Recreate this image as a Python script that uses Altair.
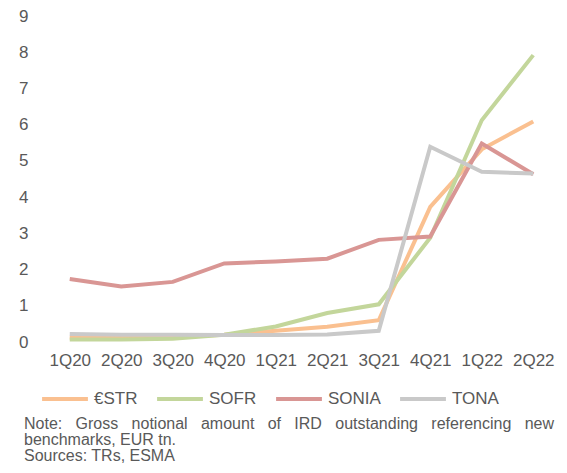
import altair as alt
import pandas as pd

quarters = ["1Q20", "2Q20", "3Q20", "4Q20", "1Q21", "2Q21", "3Q21", "4Q21", "1Q22", "2Q22"]
series_names = ["€STR", "SOFR", "SONIA", "TONA"]
estr = [0.12, 0.12, 0.14, 0.20, 0.31, 0.42, 0.60, 3.73, 5.32, 6.09]
sofr = [0.07, 0.07, 0.09, 0.20, 0.43, 0.80, 1.04, 2.88, 6.12, 7.92]
sonia = [1.74, 1.53, 1.66, 2.17, 2.22, 2.30, 2.82, 2.91, 5.48, 4.63]
tona = [0.22, 0.20, 0.20, 0.19, 0.19, 0.21, 0.31, 5.39, 4.70, 4.65]
colors = ["#FAC090", "#C3D69B", "#D99694", "#C9C9C9"]

GAP = "\u00a0" * 3
note_lines = [
    GAP.join(["Note:", "Gross", "notional", "amount", "of", "IRD", "outstanding", "referencing", "new"]),
    "benchmarks, EUR tn.",
    "Sources: TRs, ESMA",
]

rows = []
for name, vals in zip(series_names, [estr, sofr, sonia, tona]):
    for q, v in zip(quarters, vals):
        rows.append({"quarter": q, "series": name, "value": v})
df = pd.DataFrame(rows)

text_color = "#595959"
font = "Liberation Sans"

lines = alt.Chart(df).mark_line(strokeWidth=4).encode(
    x=alt.X("quarter:N", sort=quarters,
            scale=alt.Scale(type="point", padding=0.5),
            axis=alt.Axis(title=None, labelAngle=0, domain=False, ticks=False,
                          grid=False, labelFontSize=17, labelColor=text_color,
                          labelFont=font, labelPadding=10)),
    y=alt.Y("value:Q", scale=alt.Scale(domain=[0, 9], nice=False),
            axis=alt.Axis(title=None, values=list(range(10)), domain=False,
                          ticks=False, grid=False, labelFontSize=17,
                          labelColor=text_color, labelFont=font, labelPadding=16)),
    color=alt.Color("series:N",
                    scale=alt.Scale(domain=series_names, range=colors),
                    legend=alt.Legend(title=None, orient="none", direction="horizontal",
                                      legendX=-4, legendY=358,
                                      symbolType="stroke", symbolStrokeWidth=4,
                                      symbolSize=2100, labelFontSize=17,
                                      labelColor=text_color, labelFont=font,
                                      labelOffset=4, columnPadding=11)),
    order=alt.Order("series_order:Q"),
).transform_calculate(
    series_order="indexof(['€STR','SOFR','SONIA','TONA'], datum.series)"
)

note_df = pd.DataFrame({"note": ["\n".join(note_lines)]})
note = alt.Chart(note_df).mark_text(
    align="left", baseline="alphabetic", fontSize=16, font=font,
    color=text_color, lineBreak="\n", lineHeight=16,
).encode(
    text="note:N",
    x=alt.value(-20),
    y=alt.value(413),
)

chart = alt.layer(lines, note).properties(
    width=515, height=326,
    padding={"left": 36, "top": 8, "right": 0, "bottom": 123},
    autosize=alt.AutoSizeParams(type="none"),
).configure_view(stroke=None)

chart.save("out.html", embed_options={"renderer": "svg", "actions": False})
